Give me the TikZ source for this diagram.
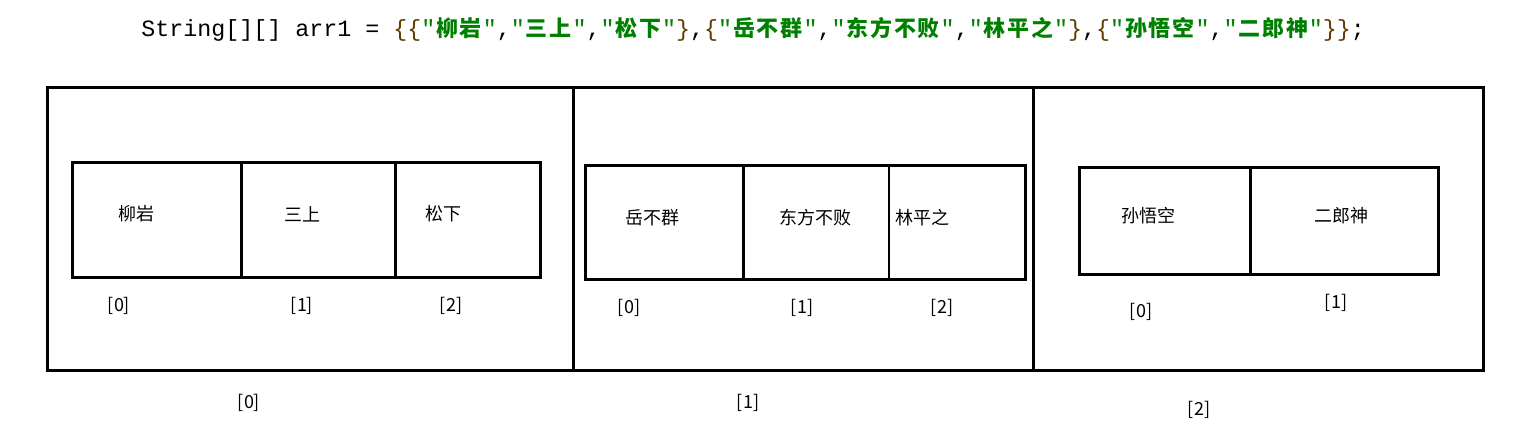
\documentclass[tikz,border=0pt]{standalone}
\usepackage{fontspec}
\usetikzlibrary{fit}
\setmainfont{Noto Sans CJK SC}
\newfontfamily\cjkfont{Noto Sans CJK SC}
\newfontfamily\codemono{Liberation Mono}
\definecolor{cgreen}{HTML}{008000}
\definecolor{cbrace}{HTML}{5E3C00}
\makeatletter
\newcommand\cstr[1]{{\color{cgreen}"{\cjkfont\bfseries\fontsize{16.5pt}{18pt}\selectfont\@tfor\cch:=#1\do{\makebox[17.85pt]{\cch}}}"}}
\makeatother
\newcommand\bra[1]{{\color{cbrace}#1}}
\tikzset{
  box/.style={draw=black, line width=2.25pt, inner sep=0pt, fit={#1}},
  cellarea/.style={inner sep=0pt, fit={#1}},
  divline/.style={line width=2.25pt},
  thindiv/.style={line width=1.5pt},
  lbl/.style={inner sep=0pt, font=\fontsize{13.5pt}{16pt}\selectfont}
}
\begin{document}
\begin{tikzpicture}[x=0.75pt,y=-0.75pt]
\useasboundingbox (0,0) rectangle (1538,443);
% code line
\node[anchor=west, inner sep=0pt, font=\codemono\fontsize{17.5pt}{20pt}\selectfont] (code) at (141,29)
 {String[][] arr1 = \bra{\{\{}\cstr{柳岩},\cstr{三上},\cstr{松下}\bra{\}},\bra{\{}\cstr{岳不群},\cstr{东方不败},\cstr{林平之}\bra{\}},\bra{\{}\cstr{孙悟空},\cstr{二郎神}\bra{\}\}};};
% outer boxes
\node[box={(47,87)(573,370)}] (o0) {};
\node[box={(573,87)(1033,370)}] (o1) {};
\node[box={(1033,87)(1483,370)}] (o2) {};
% row 0
\node[box={(72,162)(241,277)}] (a0) {};
\node[box={(241,162)(395,277)}] (a1) {};
\node[box={(395,162)(540,277)}] (a2) {};
% row 1
\node[box={(585,165)(1025,279)}] (rowb) {};
\node[cellarea={(585,165)(744,279)}] (b0) {};
\node[cellarea={(744,165)(889,279)}] (b1) {};
\node[cellarea={(889,165)(1025,279)}] (b2) {};
\draw[divline] (b1.north west) -- (b1.south west);
\draw[thindiv] (b2.north west) -- (b2.south west);
% row 2
\node[box={(1079,167)(1250,274)}] (c0) {};
\node[box={(1250,167)(1438,274)}] (c1) {};
% cell texts
\node[lbl] (ta0) at (136,214) {柳岩};
\node[lbl] (ta1) at (302,214) {三上};
\node[lbl] (ta2) at (443,214) {松下};
\node[lbl] (tb0) at (652,218) {岳不群};
\node[lbl] (tb1) at (815,218) {东方不败};
\node[lbl] (tb2) at (922,218) {林平之};
\node[lbl] (tc0) at (1148,216) {孙悟空};
\node[lbl] (tc1) at (1341,216) {二郎神};
% indices
\node[lbl] (ia0) at (119,306) {[0]};
\node[lbl] (ia1) at (302,306) {[1]};
\node[lbl] (ia2) at (451,306) {[2]};
\node[lbl] (ib0) at (629,308) {[0]};
\node[lbl] (ib1) at (802,308) {[1]};
\node[lbl] (ib2) at (942,308) {[2]};
\node[lbl] (ic0) at (1141,312) {[0]};
\node[lbl] (ic1) at (1336,303) {[1]};
\node[lbl] (io0) at (249,403) {[0]};
\node[lbl] (io1) at (748,403) {[1]};
\node[lbl] (io2) at (1199,410) {[2]};
\end{tikzpicture}
\end{document}
